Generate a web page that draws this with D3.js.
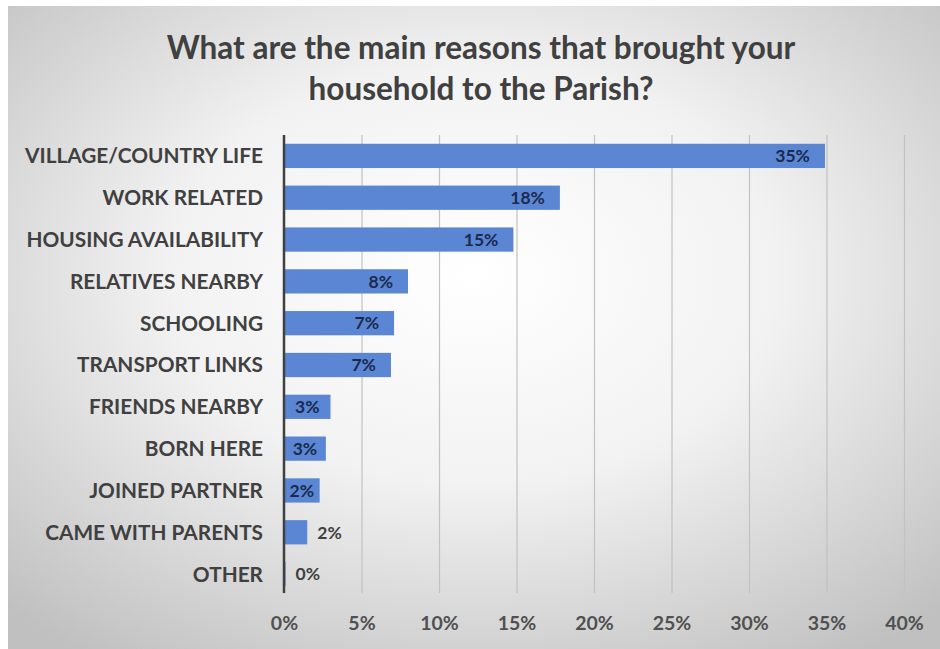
<!DOCTYPE html>
<html>
<head>
<meta charset="utf-8">
<script src="https://cdn.jsdelivr.net/npm/d3@7"></script>
<style>
  html, body { margin: 0; padding: 0; background: #ffffff; }
  svg { display: block; }
  text { font-family: Lato, "Open Sans", sans-serif; font-weight: 700; }
</style>
</head>
<body>
<svg id="chart" width="940" height="649"></svg>
<script>
const titleLines = ["What are the main reasons that brought your", "household to the Parish?"];
const categories = [
  "VILLAGE/COUNTRY LIFE", "WORK RELATED", "HOUSING AVAILABILITY", "RELATIVES NEARBY",
  "SCHOOLING", "TRANSPORT LINKS", "FRIENDS NEARBY", "BORN HERE",
  "JOINED PARTNER", "CAME WITH PARENTS", "OTHER"
];
const values = [34.9, 17.8, 14.8, 8.0, 7.1, 6.9, 3.0, 2.7, 2.3, 1.5, 0.1];
const tickValues = [0, 5, 10, 15, 20, 25, 30, 35, 40];

const W = 940, H = 649;
const svg = d3.select("#chart");

// background gradient
const defs = svg.append("defs");
const grad = defs.append("radialGradient").attr("id", "bg")
  .attr("cx", "50%").attr("cy", "42%").attr("r", "72%");
grad.append("stop").attr("offset", "0%").attr("stop-color", "#ffffff");
grad.append("stop").attr("offset", "45%").attr("stop-color", "#f2f2f2");
grad.append("stop").attr("offset", "100%").attr("stop-color", "#c0c0c0");

svg.append("rect").attr("x", 0).attr("y", 0).attr("width", W).attr("height", H).attr("fill", "#ffffff");
svg.append("rect").attr("x", 8).attr("y", 6).attr("width", W - 8).attr("height", H - 6).attr("fill", "url(#bg)");

const margin = { left: 284, right: 36, top: 135, bottom: 54 };
const x = d3.scaleLinear().domain([0, 40]).range([margin.left, W - margin.right]);
const y = d3.scaleBand().domain(categories).range([margin.top, H - margin.bottom])
  .paddingInner(0.42).paddingOuter(0.21);

// title
svg.append("g").selectAll("text").data(titleLines).join("text")
  .attr("x", 481).attr("y", (d, i) => 59 + i * 41)
  .attr("text-anchor", "middle").attr("fill", "#404040")
  .style("font-size", "31.5px")
  .text(d => d);

// gridlines
const gridBottom = H - margin.bottom - 2;
svg.append("g").attr("transform", `translate(0,${gridBottom})`)
  .call(d3.axisBottom(x).tickValues(tickValues.slice(1)).tickSize(-(gridBottom - margin.top)).tickFormat(""))
  .call(g => g.select(".domain").remove())
  .call(g => g.selectAll(".tick line").attr("stroke", "#c2c2c2").attr("stroke-width", 1.2));

// bars
svg.append("g").selectAll("rect").data(values).join("rect")
  .attr("x", x(0))
  .attr("y", (d, i) => y(categories[i]))
  .attr("width", d => x(d) - x(0))
  .attr("height", y.bandwidth())
  .attr("fill", "#5a86d3");

// y axis line
svg.append("line").attr("x1", x(0)).attr("x2", x(0))
  .attr("y1", margin.top).attr("y2", gridBottom)
  .attr("stroke", "#404040").attr("stroke-width", 2.5);

// category labels
svg.append("g").selectAll("text").data(categories).join("text")
  .attr("x", 263).attr("y", d => y(d) + y.bandwidth() / 2)
  .attr("dy", "0.36em").attr("text-anchor", "end").attr("fill", "#404040")
  .style("font-size", "20.8px")
  .text(d => d);

// x tick labels
svg.append("g").attr("transform", `translate(0,${gridBottom})`)
  .call(d3.axisBottom(x).tickValues(tickValues).tickSize(0).tickPadding(23).tickFormat(d => d + "%"))
  .call(g => g.select(".domain").remove())
  .call(g => g.selectAll("text").attr("fill", "#505050").style("font-size", "19.5px")
    .style("font-family", "Lato, sans-serif").style("font-weight", "700"));

// data labels
const lbl = svg.append("g").selectAll("text").data(values).join("text")
  .attr("y", (d, i) => y(categories[i]) + y.bandwidth() / 2)
  .attr("dy", "0.36em")
  .style("font-size", "17.5px")
  .text(d => Math.round(d) + "%");
lbl.each(function(d) {
  const t = d3.select(this);
  const tw = this.getComputedTextLength();
  const bw = x(d) - x(0);
  if (tw + 6 <= bw) {
    const inset = Math.min(15, (bw - tw) / 2);
    t.attr("x", x(d) - inset).attr("text-anchor", "end").attr("fill", "#1b2a4e");
  } else {
    t.attr("x", x(d) + 10).attr("text-anchor", "start").attr("fill", "#404040");
  }
});
</script>
</body>
</html>
